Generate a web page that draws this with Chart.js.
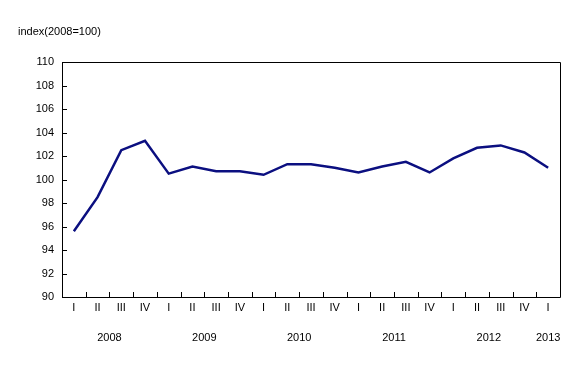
<!DOCTYPE html>
<html>
<head>
<meta charset="utf-8">
<script src="https://cdn.jsdelivr.net/npm/chart.js@4/dist/chart.umd.min.js"></script>
<style>
    html, body { margin: 0; padding: 0; background: #fff; }
    #wrap { position: relative; width: 588px; height: 380px; }
</style>
</head>
<body>
<div id="wrap"><canvas id="indexChart" width="588" height="380"></canvas></div>
<script>
const quarters = ['I', 'II', 'III', 'IV', 'I', 'II', 'III', 'IV', 'I', 'II', 'III', 'IV', 'I', 'II', 'III', 'IV', 'I', 'II', 'III', 'IV', 'I'];
const years = ['2008', '2009', '2010', '2011', '2012', '2013'];
const values = [95.6, 98.5, 102.5, 103.3, 100.5, 101.1, 100.7, 100.7, 100.4, 101.3, 101.3, 101.0, 100.6, 101.1, 101.5, 100.6, 101.8, 102.7, 102.9, 102.3, 101.0];
const unitLabel = 'index(2008=100)';

const font = '11px "Liberation Sans", Arial, sans-serif';

const framePlugin = {
    id: 'frame',
    afterDraw(chart) {
        const { ctx, chartArea: area, scales } = chart;
        const x = scales.x;
        const y = scales.y;
        ctx.save();
        ctx.strokeStyle = '#000';
        ctx.lineWidth = 1;

        // box
        ctx.beginPath();
        ctx.moveTo(area.left + 0.5, area.top + 0.5);
        ctx.lineTo(area.right + 0.5, area.top + 0.5);
        ctx.lineTo(area.right + 0.5, area.bottom + 0.5);
        ctx.lineTo(area.left + 0.5, area.bottom + 0.5);
        ctx.closePath();
        ctx.stroke();

        // inward ticks on y
        ctx.beginPath();
        y.ticks.forEach((t, i) => {
            const py = Math.round(y.getPixelForTick(i)) + 0.5;
            ctx.moveTo(area.left, py);
            ctx.lineTo(area.left + 5, py);
        });
        // inward ticks on x, at band edges
        const half = (x.getPixelForValue(1) - x.getPixelForValue(0)) / 2;
        for (let i = 1; i < quarters.length; i++) {
            const px = Math.round(x.getPixelForValue(i) - half) + 0.5;
            ctx.moveTo(px, area.bottom);
            ctx.lineTo(px, area.bottom - 5);
        }
        ctx.stroke();

        // year labels under their quarters
        ctx.fillStyle = '#000';
        ctx.font = font;
        ctx.textAlign = 'center';
        ctx.textBaseline = 'middle';
        years.forEach((yr, k) => {
            const first = k * 4;
            const last = Math.min(first + 3, quarters.length - 1);
            const cx = (x.getPixelForValue(first) + x.getPixelForValue(last)) / 2;
            ctx.fillText(yr, cx, area.bottom + 41);
        });

        // unit label
        ctx.textAlign = 'left';
        ctx.fillText(unitLabel, 18, 32);
        ctx.restore();
    },
};

new Chart(document.getElementById('indexChart'), {
    type: 'line',
    data: {
        labels: quarters,
        datasets: [
            {
                label: unitLabel,
                data: values,
                borderColor: '#0b0f80',
                borderWidth: 2.5,
                pointRadius: 0,
                tension: 0,
                fill: false,
            },
        ],
    },
    options: {
        responsive: false,
        animation: false,
        layout: { padding: { top: 62, right: 28, left: 0, bottom: 0 } },
        plugins: { legend: { display: false }, tooltip: { enabled: false } },
        scales: {
            x: {
                offset: true,
                grid: { display: false, drawTicks: false },
                border: { display: false },
                ticks: { color: '#000', font: { family: '"Liberation Sans", Arial, sans-serif', size: 11 }, padding: 4, maxRotation: 0, autoSkip: false },
                afterFit(scale) { scale.height = 83; },
            },
            y: {
                min: 90,
                max: 110,
                grid: { display: false, drawTicks: false },
                border: { display: false },
                ticks: { stepSize: 2, color: '#000', font: { family: '"Liberation Sans", Arial, sans-serif', size: 11 }, padding: 8 },
                afterFit(scale) { scale.width = 62; },
            },
        },
    },
    plugins: [framePlugin],
});
</script>
</body>
</html>
